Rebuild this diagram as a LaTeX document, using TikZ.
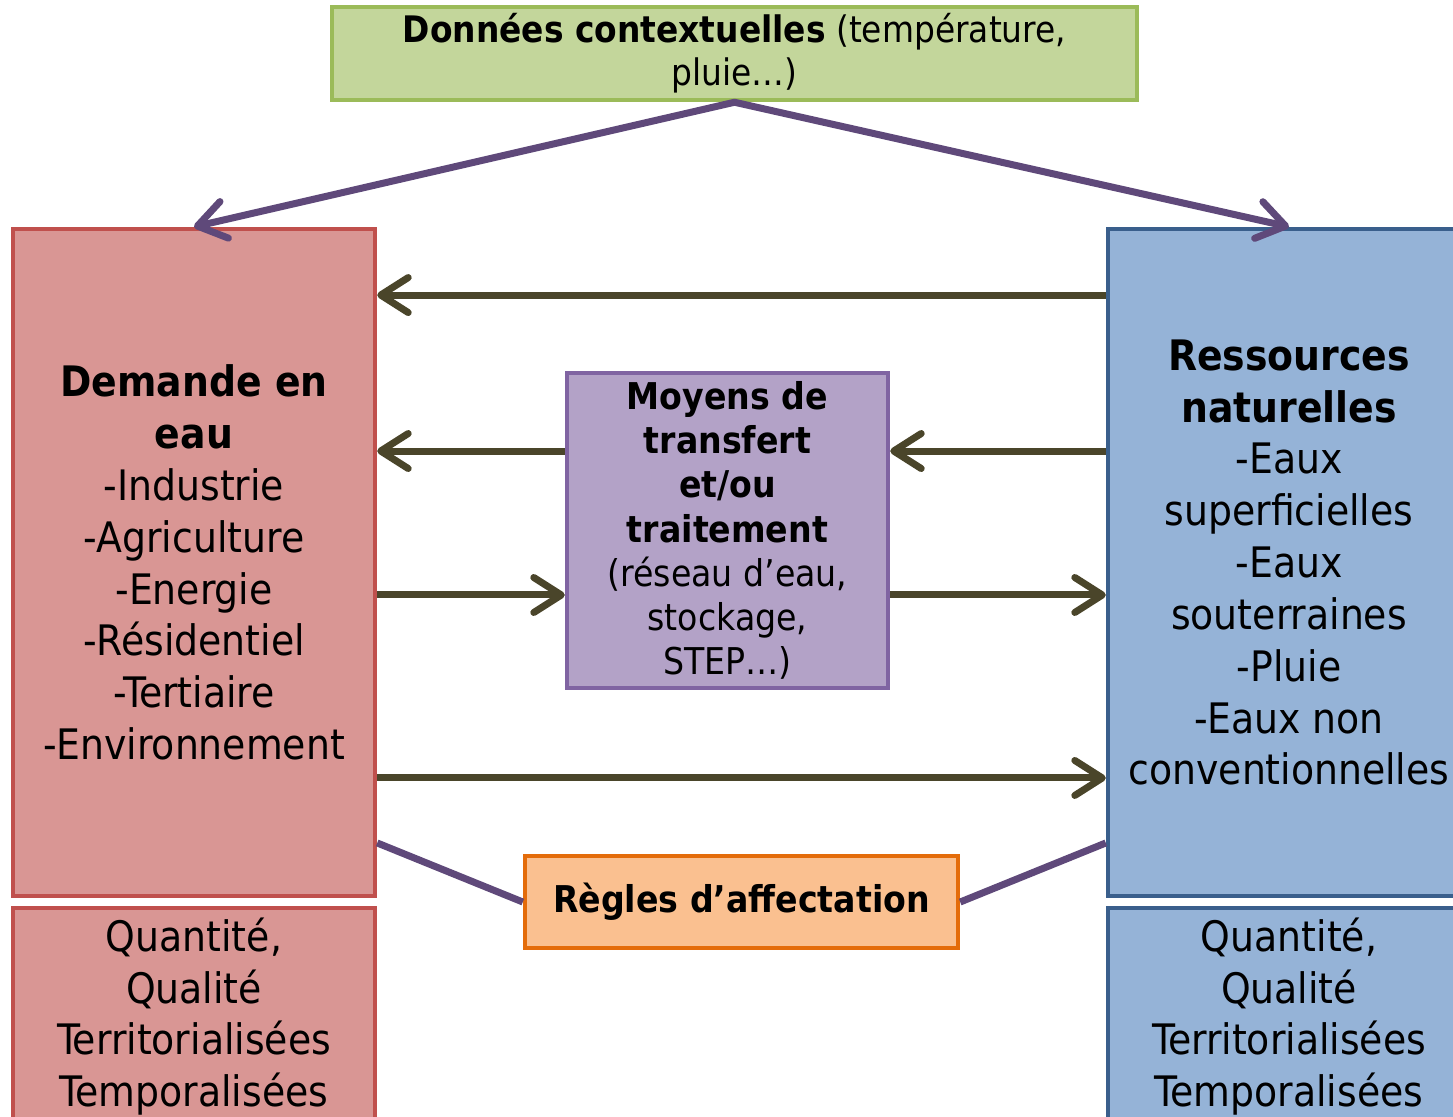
\documentclass[tikz,border=0pt]{standalone}
\usepackage{fontspec}
\setmainfont{DejaVu Sans Condensed}
\usetikzlibrary{arrows.meta}
\definecolor{gfill}{HTML}{C3D69B}
\definecolor{gline}{HTML}{9BBB59}
\definecolor{rfill}{HTML}{D99694}
\definecolor{rline}{HTML}{C0504D}
\definecolor{bfill}{HTML}{95B3D7}
\definecolor{bline}{HTML}{3A5F8C}
\definecolor{pfill}{HTML}{B3A2C7}
\definecolor{pline}{HTML}{8064A2}
\definecolor{ofill}{HTML}{FAC090}
\definecolor{oline}{HTML}{E46C0A}
\definecolor{parrow}{HTML}{5F497A}
\definecolor{oarrow}{HTML}{4A452A}
\tikzset{
  box/.style={rectangle, line width=0.09cm, inner sep=0pt, align=center, text=black},
  bigtxt/.style={font=\fontsize{23.9}{29.5}\selectfont},
  midtxt/.style={font=\fontsize{21}{25.2}\selectfont},
  toptxt/.style={font=\fontsize{20.8}{24.4}\selectfont},
  parr/.style={draw=parrow, line width=0.14cm, line cap=round, -{Straight Barb[length=0.55cm,width=0.75cm,round]}},
  pline/.style={draw=parrow, line width=0.14cm},
  oarr/.style={draw=oarrow, line width=0.14cm, -{Straight Barb[length=0.55cm,width=0.7cm,round]}}
}
\begin{document}
\begin{tikzpicture}[x=0.02cm,y=0.02cm]
\clip (0,0) rectangle (1453,-1116);
\fill[white] (0,0) rectangle (1453,-1116);
% boxes
\node[box, toptxt, fill=gfill, draw=gline, minimum width=16.1cm, minimum height=1.86cm] (top) at (734.5,-53.5)
  {\textbf{Données contextuelles} (température,\\pluie…)};
\node[box, bigtxt, fill=rfill, draw=rline, minimum width=7.24cm, minimum height=13.34cm] (dem) at (194,-562.5)
  {\textbf{Demande en}\\\textbf{eau}\\-Industrie\\-Agriculture\\-Energie\\-Résidentiel\\-Tertiaire\\-Environnement};
\node[box, bigtxt, fill=rfill, draw=rline, minimum width=7.24cm, minimum height=4.34cm] (demq) at (194,-1016.5)
  {Quantité,\\Qualité\\Territorialisées\\Temporalisées};
\node[box, bigtxt, fill=bfill, draw=bline, minimum width=7.24cm, minimum height=13.34cm] (res) at (1289,-562.5)
  {\textbf{Ressources}\\\textbf{naturelles}\\-Eaux\\superficielles\\-Eaux\\souterraines\\-Pluie\\-Eaux non\\conventionnelles};
\node[box, bigtxt, fill=bfill, draw=bline, minimum width=7.24cm, minimum height=4.34cm] (resq) at (1289,-1016.5)
  {Quantité,\\Qualité\\Territorialisées\\Temporalisées};
\node[box, midtxt, fill=pfill, draw=pline, minimum width=6.42cm, minimum height=6.3cm] (mid) at (727.5,-530.5)
  {\textbf{Moyens de}\\\textbf{transfert}\\\textbf{et/ou}\\\textbf{traitement}\\(réseau d’eau,\\stockage,\\STEP…)};
\node[box, midtxt, fill=ofill, draw=oline, minimum width=8.66cm, minimum height=1.84cm] (reg) at (741.5,-902)
  {\textbf{Règles d’affectation}};
% helper coordinates
\coordinate (m1) at ([yshift=1.59cm]mid.east);
\coordinate (m2) at ([yshift=1.59cm]mid.west);
\coordinate (m3) at ([yshift=-1.29cm]mid.west);
\coordinate (m4) at ([yshift=-1.29cm]mid.east);
% connectors
\draw[parr] (top.south) -- (dem.north);
\draw[parr] (top.south) -- (res.north);
\draw[oarr] ([yshift=5.35cm]res.west) -- ([yshift=5.35cm]dem.east);
\draw[oarr] (m1 -| res.west) -- (m1);
\draw[oarr] (m2) -- (m2 -| dem.east);
\draw[oarr] (m3 -| dem.east) -- (m3);
\draw[oarr] (m4) -- (m4 -| res.west);
\draw[oarr] ([yshift=-4.31cm]dem.east) -- ([yshift=-4.31cm]res.west);
\draw[pline] ([yshift=-5.61cm]dem.east) -- (reg.west);
\draw[pline] (reg.east) -- ([yshift=-5.61cm]res.west);
\end{tikzpicture}
\end{document}
